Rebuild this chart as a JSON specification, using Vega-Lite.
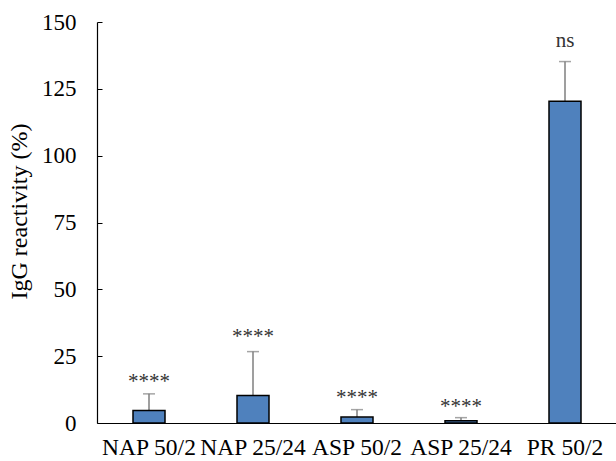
{
  "$schema": "https://vega.github.io/schema/vega-lite/v6.json",
  "autosize": "none",
  "padding": {"left": 97, "top": 22, "right": 0, "bottom": 38},
  "width": 520,
  "height": 401,
  "config": {
    "font": "Liberation Serif",
    "view": {"stroke": null},
    "axis": {"grid": false, "domainColor": "#000000", "domainWidth": 1.2, "labelColor": "#000000", "titleColor": "#000000", "labelFont": "Liberation Serif", "titleFont": "Liberation Serif"}
  },
  "data": {
    "values": [
      {"group": "NAP 50/2", "value": 4.7, "upper": 10.9, "sig": "****", "label_y": 13.0},
      {"group": "NAP 25/24", "value": 10.3, "upper": 26.7, "sig": "****", "label_y": 30.1},
      {"group": "ASP 50/2", "value": 2.2, "upper": 5.0, "sig": "****", "label_y": 7.1},
      {"group": "ASP 25/24", "value": 0.8, "upper": 2.0, "sig": "****", "label_y": 3.7},
      {"group": "PR 50/2", "value": 120.4, "upper": 135.2, "sig": "ns", "label_y": 140.8}
    ]
  },
  "encoding": {
    "x": {
      "field": "group", "type": "nominal", "sort": null,
      "scale": {"paddingInner": 0, "paddingOuter": 0},
      "axis": {"title": null, "ticks": false, "labelAngle": 0, "labelFontSize": 23.5, "labelPadding": 12, "labelOverlap": false, "domainColor": "#000000"}
    }
  },
  "layer": [
    {
      "mark": {"type": "rule", "color": "#7f7f7f", "strokeWidth": 1.5},
      "encoding": {
        "y": {"field": "value", "type": "quantitative"},
        "y2": {"field": "upper"}
      }
    },
    {
      "mark": {"type": "tick", "orient": "horizontal", "color": "#7f7f7f", "size": 12, "thickness": 1.5},
      "encoding": {
        "y": {"field": "upper", "type": "quantitative"}
      }
    },
    {
      "mark": {"type": "bar", "size": 32, "fill": "#4F81BD", "stroke": "#000000", "strokeWidth": 1.5},
      "encoding": {
        "y": {
          "field": "value", "type": "quantitative",
          "scale": {"domain": [0, 150], "nice": false},
          "axis": {
            "title": "IgG reactivity (%)", "titleFontSize": 24, "titleFontWeight": "normal",
            "titleX": -78, "titleY": 189, "titleAlign": "center", "titleBaseline": "middle", "titleAngle": -90,
            "values": [0, 12.5, 25, 37.5, 50, 62.5, 75, 87.5, 100, 112.5, 125, 137.5, 150],
            "labelExpr": "datum.value % 25 === 0 ? datum.label : ''",
            "labelFontSize": 23, "tickSize": -5, "tickColor": "#000000", "labelPadding": 26
          }
        }
      }
    },
    {
      "mark": {"type": "text", "fontSize": 21, "baseline": "alphabetic", "color": "#333333"},
      "encoding": {
        "y": {"field": "label_y", "type": "quantitative"},
        "text": {"field": "sig"}
      }
    }
  ]
}
